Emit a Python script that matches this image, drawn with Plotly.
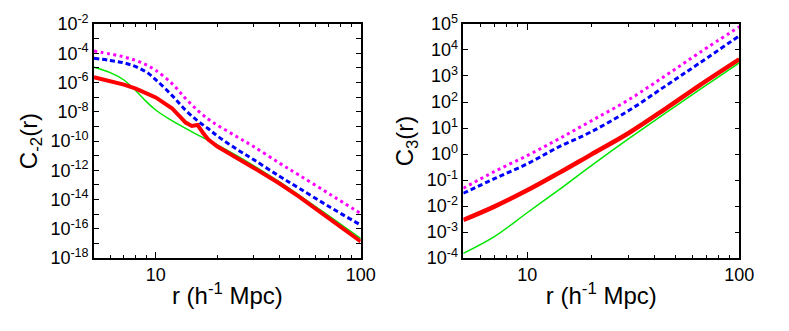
import plotly.graph_objects as go

# ---------------- data ----------------
# Left panel: C_{-2}(r), r in h^-1 Mpc
r_left = [5, 6, 7, 8, 9, 10, 12, 14, 16, 18, 20, 25, 30, 40, 50, 70, 100]
magenta_left = [1.41e-4, 8.9e-5, 5.6e-5, 3.2e-5, 1.6e-5, 6.8e-6, 8.5e-7, 7.9e-8, 1.26e-8,
                3.2e-9, 1.2e-9, 1.9e-10, 4.2e-11, 3.2e-12, 4.7e-13, 2.5e-14, 1.12e-15]
blue_left = [4.5e-5, 3.2e-5, 2.2e-5, 1.2e-5, 5.2e-6, 1.58e-6, 1.32e-7, 1.26e-8, 2.4e-9,
             7.1e-10, 2.2e-10, 2.6e-11, 5.4e-12, 4.0e-13, 6.0e-14, 3.3e-15, 1.8e-16]
green_left = [1.1e-5, 4.7e-6, 1.48e-6, 2.75e-7, 4.9e-8, 1.32e-8, 2.45e-9, 7.4e-10, 2.6e-10,
              1.17e-10, 5.4e-11, 9.5e-12, 2.1e-12, 1.66e-13, 2.0e-14, 7.6e-16, 2.2e-17]
r_red_left = [5, 6, 7, 8, 9, 10, 12, 13, 14, 15, 16, 17, 18, 20, 25, 30, 40, 50, 70, 100]
red_left = [2.3e-6, 1.32e-6, 7.1e-7, 3.8e-7, 1.9e-7, 9.5e-8, 1.74e-8, 6.0e-9, 1.82e-9,
            1.07e-9, 1.26e-9, 3.7e-10, 1.32e-10, 4.2e-11, 7.4e-12, 1.5e-12, 1.29e-13,
            1.58e-14, 5.2e-16, 1.35e-17]

# Right panel: C_3(r)
r_right = [5, 7, 10, 14, 20, 30, 45, 65, 100]
magenta_right = [0.048, 0.21, 0.87, 3.7, 18.6, 120, 1050, 7900, 7.9e4]
blue_right = [0.031, 0.112, 0.42, 1.82, 7.1, 46, 420, 3160, 3.5e4]
red_right = [0.0029, 0.0095, 0.040, 0.18, 0.95, 6.3, 56, 440, 4.4e3]
green_right = [1.5e-4, 6.6e-4, 0.0055, 0.040, 0.35, 3.8, 38, 300, 3.2e3]

x_tickvals = [10, 100]
x_ticktext = ["10", "100"]
x_minor = [5, 6, 7, 8, 9, 20, 30, 40, 50, 60, 70, 80, 90]

left_exps = list(range(-18, -1))
right_exps = list(range(-4, 6))

# ---------------- figure ----------------
FONT = "Liberation Sans, Arial, sans-serif"
MAGENTA, BLUE, RED, GREEN = "#ff00ff", "#0000ff", "#ff0000", "#00e600"
DOT = "3px,3.5px"
DASH = "5px,3px"
TICK_SIZE = 18
TITLE_SIZE = 24
fig = go.Figure()


def add(x, y, color, width, dash, xa, ya, shape="spline"):
    fig.add_trace(go.Scatter(x=x, y=y, mode="lines", xaxis=xa, yaxis=ya,
                             line=dict(color=color, width=width, dash=dash, shape=shape),
                             showlegend=False, hoverinfo="skip", cliponaxis=True))


add(r_left, magenta_left, MAGENTA, 3, DOT, "x", "y")
add(r_left, blue_left, BLUE, 3, DASH, "x", "y")
add(r_left, green_left, GREEN, 1.5, "solid", "x", "y")
add(r_red_left, red_left, RED, 4, "solid", "x", "y", shape="linear")

add(r_right, magenta_right, MAGENTA, 3, DOT, "x2", "y2")
add(r_right, blue_right, BLUE, 3, DASH, "x2", "y2")
add(r_right, red_right, RED, 4.5, "solid", "x2", "y2")
add(r_right, green_right, GREEN, 1.5, "solid", "x2", "y2")


def xaxis(domain, anchor):
    return dict(type="log", domain=domain, range=[0.69897, 2.0], anchor=anchor,
                automargin=False,
                tickvals=x_tickvals, ticktext=x_ticktext,
                ticks="inside", ticklen=6, tickwidth=1, tickcolor="black",
                minor=dict(tickmode="array", tickvals=x_minor, ticks="inside", ticklen=3,
                           tickwidth=1, tickcolor="black", showgrid=False),
                showline=True, linecolor="black", linewidth=1.5, mirror="ticks",
                showgrid=False, zeroline=False,
                tickfont=dict(family=FONT, size=TICK_SIZE, color="black"),
                title=dict(text="r (h<sup>-1</sup> Mpc)", standoff=3,
                           font=dict(family=FONT, size=TITLE_SIZE, color="black")))


def yaxis(exps, labels, title, anchor):
    return dict(type="log", domain=[0.2205, 0.9275], range=[exps[0], exps[-1]],
                anchor=anchor, automargin=False,
                tickvals=[10.0 ** e for e in exps], ticktext=labels,
                ticks="inside", ticklen=5, tickwidth=1, tickcolor="black",
                showline=True, linecolor="black", linewidth=1.5, mirror="ticks",
                showgrid=False, zeroline=False,
                tickfont=dict(family=FONT, size=TICK_SIZE, color="black"),
                title=dict(text=title, standoff=6,
                           font=dict(family=FONT, size=TITLE_SIZE, color="black")))


left_labels = ["10<sup>%d</sup>" % e if e % 2 == 0 else "" for e in left_exps]
right_labels = ["10<sup>%d</sup>" % e for e in right_exps]

fig.update_layout(
    width=789, height=331,
    margin=dict(l=0, r=0, t=0, b=0, autoexpand=False),
    paper_bgcolor="white", plot_bgcolor="white",
    xaxis=xaxis([0.1191, 0.4572], "y"),
    yaxis=yaxis(left_exps, left_labels, "C<sub>-2</sub>(r)", "x"),
    xaxis2=xaxis([0.5872, 0.937], "y2"),
    yaxis2=yaxis(right_exps, right_labels, "C<sub>3</sub>(r)", "x2"),
)

fig.write_html("out.html", config={"displayModeBar": False},
               post_script="document.body.style.margin='0';document.body.style.overflow='hidden';")
